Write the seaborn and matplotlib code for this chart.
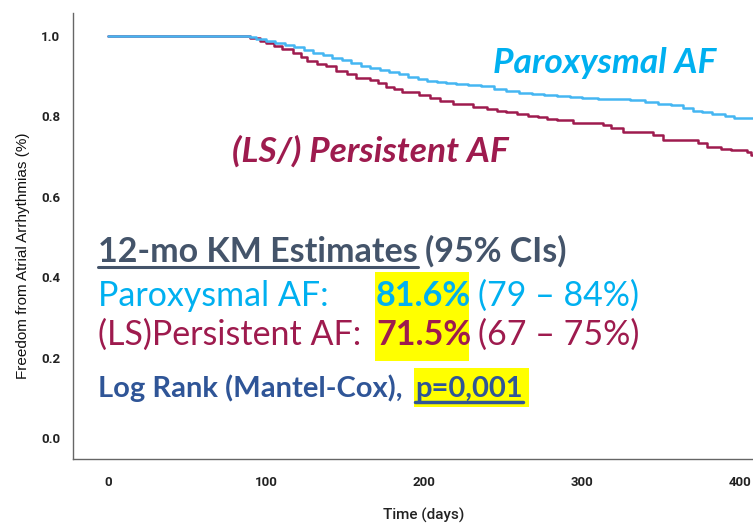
import numpy as np
import pandas as pd
import matplotlib
matplotlib.use('Agg')
import matplotlib.pyplot as plt
import seaborn as sns
from matplotlib.patches import Rectangle
from matplotlib.lines import Line2D

##DATA: Kaplan-Meier steps (days, freedom from AF)
days_parox = [0, 90, 94, 100, 106, 112, 118, 124, 130, 136, 142, 148, 154, 160, 166, 172,
              178, 184, 190, 196, 202, 208, 214, 220, 228, 236, 244, 252, 260, 268, 276, 284,
              292, 300, 310, 320, 330, 340, 348, 356, 364, 370, 376, 382, 390, 396, 408]
surv_parox = [1.0, 0.997, 0.993, 0.988, 0.983, 0.978, 0.972, 0.965, 0.958, 0.952, 0.946, 0.940,
              0.932, 0.926, 0.921, 0.916, 0.911, 0.905, 0.899, 0.894, 0.889, 0.885, 0.882, 0.880,
              0.878, 0.875, 0.868, 0.863, 0.858, 0.855, 0.853, 0.851, 0.849, 0.846, 0.844, 0.842,
              0.840, 0.835, 0.831, 0.827, 0.821, 0.814, 0.810, 0.806, 0.801, 0.795, 0.795]

days_pers = [0, 90, 96, 100, 105, 110, 117, 122, 126, 132, 138, 144, 151, 157, 166, 171, 176,
             181, 186, 197, 204, 210, 218, 231, 240, 246, 252, 259, 266, 272, 278, 284, 294,
             313, 318, 326, 345, 351, 373, 379, 388, 394, 404, 407, 408]
surv_pers = [1.0, 0.995, 0.988, 0.982, 0.975, 0.968, 0.958, 0.948, 0.938, 0.930, 0.924, 0.913,
             0.905, 0.895, 0.890, 0.882, 0.874, 0.867, 0.861, 0.853, 0.845, 0.838, 0.830, 0.824,
             0.818, 0.813, 0.810, 0.807, 0.802, 0.798, 0.794, 0.791, 0.783, 0.778, 0.770, 0.762,
             0.754, 0.741, 0.733, 0.725, 0.720, 0.716, 0.711, 0.705, 0.705]

x_ticks = [0, 100, 200, 300, 400]
y_ticks = [0.0, 0.2, 0.4, 0.6, 0.8, 1.0]

groups = ["Paroxysmal AF", "(LS/) Persistent AF"]
km_parox, ci_parox = "81.6%", "(79 \u2013 84%)"
km_pers, ci_pers = "71.5%", "(67 \u2013 75%)"
p_text = "p=0,001"

# colours
BLUE = "#00B0F0"
CURVE_BLUE = "#45B6F2"
MAROON = "#9E1B4E"
SLATE = "#44546A"
NAVY = "#2F5597"

sns.set_style("white")
plt.rcParams['font.family'] = ['Lato', 'DejaVu Sans']

W, H = 753, 525
fig = plt.figure(figsize=(W / 100, H / 100), dpi=100)
ax = fig.add_axes([73 / W, 1 - 459 / H, 680 / W, 446 / H])

df = pd.concat([
    pd.DataFrame({"day": days_parox, "surv": surv_parox, "group": groups[0]}),
    pd.DataFrame({"day": days_pers, "surv": surv_pers, "group": groups[1]}),
])
sns.lineplot(data=df, x="day", y="surv", hue="group", hue_order=groups[::-1],
             palette={groups[0]: CURVE_BLUE, groups[1]: MAROON}, estimator=None,
             drawstyle="steps-post", lw=1.8, legend=False, ax=ax)

ax.set_xlim(-22, 408)
ax.set_ylim(-0.052, 1.057)
ax.set_xticks(x_ticks)
ax.set_yticks(y_ticks)
ax.set_yticklabels([f"{v:.1f}" for v in y_ticks])
for s in ["top", "right"]:
    ax.spines[s].set_visible(False)
for s in ["left", "bottom"]:
    ax.spines[s].set_color("#666666")
    ax.spines[s].set_linewidth(1.0)
ax.tick_params(axis="both", direction="out", length=5, width=1, color="#999999")
ax.tick_params(axis="y", pad=4)
ax.tick_params(axis="x", pad=7)
tick_font = ['Roboto', 'DejaVu Sans']
for lab in ax.get_xticklabels() + ax.get_yticklabels():
    lab.set_family(tick_font)
    lab.set_fontweight("bold")
    lab.set_fontsize(9.5)
    lab.set_color("#222222")

ax.set_xlabel("Time (days)", family=tick_font, fontsize=11, fontweight="medium", color="#222222")
ax.xaxis.set_label_coords(0.516, -0.11)
ax.set_ylabel("Freedom from Atrial Arrhythmias (%)", family=['Liberation Sans', 'DejaVu Sans'],
              fontsize=11, color="#111111")
ax.yaxis.set_label_coords(-0.063, 0.455)


def ftext(px, py, s, **kw):
    return fig.text(px / W, 1 - py / H, s, va="baseline", **kw)


def fbox(x0, y0, x1, y1, color="#FFFF00"):
    fig.add_artist(Rectangle((x0 / W, 1 - y1 / H), (x1 - x0) / W, (y1 - y0) / H,
                             transform=fig.transFigure, color=color, zorder=1, lw=0))


def underline(t, py, color, lw=2.0):
    bb = t.get_window_extent()
    fig.add_artist(Line2D([bb.x0 / W, bb.x1 / W], [1 - py / H, 1 - py / H],
                          transform=fig.transFigure, color=color, lw=lw, zorder=4))


# curve labels
ftext(493, 73, groups[0], color=BLUE, fontsize=25.5, fontweight="bold", style="italic")
ftext(232, 162, groups[1], color=MAROON, fontsize=25.5, fontweight="bold", style="italic")

# yellow highlights
fbox(375, 272, 469, 361)
fbox(414, 368, 529, 407)

# KM estimates block
BIG = 24.5
t_title = ftext(98, 262, "12-mo KM Estimates", color=SLATE, fontsize=BIG, fontweight="bold", zorder=5)
fig.canvas.draw()
bb = t_title.get_window_extent()
ftext(bb.x1 + 7, 262, "(95% CIs)", color=SLATE, fontsize=BIG, fontweight="bold", zorder=5)
underline(t_title, 267, SLATE, lw=2.2)

ftext(98, 306, "Paroxysmal AF:", color=BLUE, fontsize=BIG, zorder=5)
ftext(376, 306, km_parox, color=BLUE, fontsize=BIG, fontweight="bold", zorder=5)
ftext(478, 306, ci_parox, color=BLUE, fontsize=BIG, zorder=5)

ftext(98, 345, "(LS)Persistent AF:", color=MAROON, fontsize=BIG, zorder=5)
ftext(376, 345, km_pers, color=MAROON, fontsize=BIG, fontweight="bold", zorder=5)
ftext(478, 345, ci_pers, color=MAROON, fontsize=BIG, zorder=5)

ftext(98, 397, "Log Rank (Mantel-Cox), ", color=NAVY, fontsize=21, fontweight="bold", zorder=5)
t_p = ftext(415, 397, p_text, color=NAVY, fontsize=21, fontweight="bold", zorder=5)
fig.canvas.draw()
underline(t_p, 402, NAVY, lw=2.5)

fig.savefig("out.png", dpi=100)
